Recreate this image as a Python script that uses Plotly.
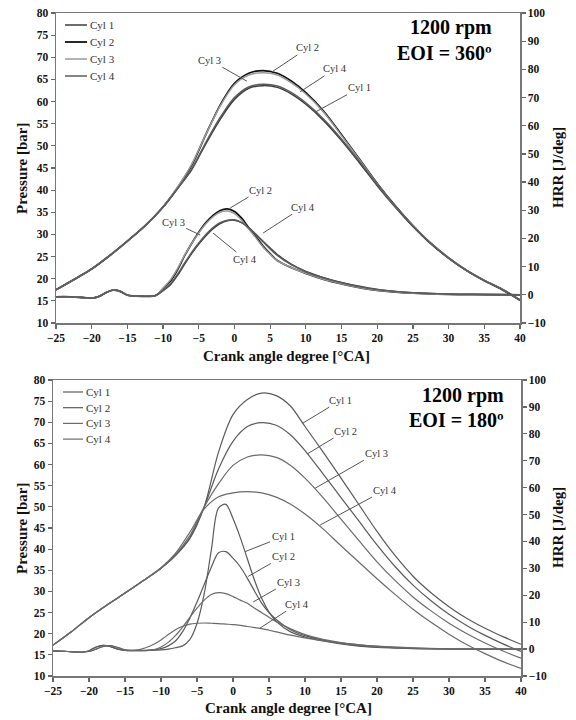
import plotly.graph_objects as go

# ---------------- data ----------------
CA_P = [-25, -22.5, -20, -17.5, -15, -12.5, -10, -8, -6, -4, -2, 0, 2, 4, 6, 8, 10,
        12.5, 15, 17.5, 20, 22.5, 25, 27.5, 30, 32.5, 35, 37.5, 40]
CA_H = [-25, -23, -21, -20, -19, -18, -17, -16, -15, -13, -11, -10, -9, -8, -7, -6, -5,
        -4, -3, -2, -1, 0, 1, 2, 3, 4, 5, 6, 8, 10, 12.5, 15, 17.5, 20, 25, 30, 35, 40]
cyl_names = ["Cyl 1", "Cyl 2", "Cyl 3", "Cyl 4"]

# EOI = 360 : pressure [bar]
p360_cyl1 = [17.5, 19.8, 22.2, 25.2, 28.5, 32.0, 36.2, 40.3, 44.6, 50.5, 56.0, 60.5, 63.0, 63.6, 63.2,
             61.7, 59.4, 55.7, 51.2, 46.2, 41.0, 36.2, 31.8, 27.9, 24.6, 21.8, 19.5, 17.5, 15.1]
p360_cyl2 = [17.5, 19.8, 22.2, 25.2, 28.5, 32.0, 36.2, 40.5, 45.6, 52.6, 59.2, 64.1, 66.4, 67.0, 66.4,
             64.6, 62.0, 57.8, 52.5, 47.0, 41.5, 36.5, 32.0, 28.0, 24.7, 21.9, 19.6, 17.6, 15.2]
p360_cyl3 = [17.5, 19.8, 22.2, 25.2, 28.5, 32.0, 36.2, 40.6, 45.8, 52.6, 59.0, 63.8, 66.0, 66.5, 66.0,
             64.2, 61.7, 57.6, 52.3, 46.9, 41.4, 36.4, 32.0, 28.0, 24.7, 21.9, 19.6, 17.6, 15.2]
p360_cyl4 = [17.5, 19.8, 22.2, 25.2, 28.5, 32.0, 36.2, 40.3, 44.8, 50.8, 56.4, 60.9, 63.3, 63.9, 63.5,
             62.0, 59.7, 56.0, 51.5, 46.5, 41.3, 36.4, 31.9, 28.0, 24.7, 21.9, 19.6, 17.6, 15.2]

# EOI = 360 : HRR [J/deg]
h360_cyl1 = [-0.7, -0.7, -1.0, -1.2, -0.6, 0.8, 1.7, 1.2, -0.1, -0.5, -0.2,
             1.5, 3.5, 6.8, 10.8, 14.6, 18.0, 21.0, 23.5, 25.3, 26.3, 26.5, 25.6, 23.8, 21.5, 19.0,
             16.6, 14.3, 10.8, 8.3, 6.1, 4.4, 3.0, 1.9, 0.7, 0.2, 0.1, 0.0]
h360_cyl2 = [-0.7, -0.7, -1.0, -1.2, -0.6, 0.8, 1.7, 1.2, -0.1, -0.5, -0.2,
             2.2, 4.8, 8.8, 13.8, 18.2, 22.2, 25.6, 28.2, 29.9, 30.5, 29.6, 27.2, 23.8, 20.6, 17.3,
             14.6, 12.2, 9.6, 7.6, 5.5, 3.9, 2.6, 1.6, 0.6, 0.2, 0.1, 0.0]
h360_cyl3 = [-0.7, -0.7, -1.0, -1.2, -0.6, 0.8, 1.7, 1.2, -0.1, -0.5, -0.2,
             2.4, 5.2, 9.2, 14.0, 18.2, 22.0, 25.2, 27.7, 29.3, 29.7, 28.8, 26.5, 23.3, 20.2, 17.0,
             14.4, 12.1, 9.6, 7.6, 5.5, 3.9, 2.6, 1.6, 0.6, 0.2, 0.1, 0.0]
h360_cyl4 = [-0.7, -0.7, -1.0, -1.2, -0.6, 0.8, 1.7, 1.2, -0.1, -0.5, -0.2,
             1.6, 3.8, 7.2, 11.2, 15.0, 18.4, 21.4, 23.9, 25.6, 26.5, 26.6, 25.6, 23.7, 21.3, 18.8,
             16.3, 14.0, 10.6, 8.2, 6.0, 4.3, 2.9, 1.9, 0.7, 0.2, 0.1, 0.0]

# EOI = 180 : pressure [bar]
p180_cyl1 = [17.3, 20.4, 23.8, 26.8, 29.6, 32.5, 35.5, 38.5, 42.5, 50.0, 63.0, 71.8, 75.4, 76.9, 76.3,
             73.8, 69.0, 63.0, 56.8, 50.5, 44.2, 38.5, 33.6, 29.7, 26.4, 23.6, 21.3, 19.3, 17.5]
p180_cyl2 = [17.3, 20.4, 23.8, 26.8, 29.6, 32.5, 35.5, 38.5, 42.7, 50.0, 59.0, 65.5, 69.0, 69.9, 69.3,
             67.0, 63.3, 57.8, 52.2, 46.6, 41.0, 35.9, 31.5, 27.8, 24.6, 21.9, 19.6, 17.6, 15.8]
p180_cyl3 = [17.3, 20.4, 23.8, 26.8, 29.6, 32.5, 35.5, 38.7, 43.2, 50.0, 55.5, 59.8, 61.8, 62.3, 61.7,
             59.8, 56.8, 52.2, 47.1, 42.0, 37.0, 32.6, 28.7, 25.4, 22.5, 20.0, 17.8, 15.9, 14.2]
p180_cyl4 = [17.3, 20.4, 23.8, 26.8, 29.6, 32.5, 35.6, 39.0, 44.0, 49.5, 52.4, 53.3, 53.6, 53.3, 52.3,
             50.6, 48.3, 44.8, 40.8, 36.9, 33.0, 29.3, 25.8, 22.7, 19.9, 17.4, 15.3, 13.4, 11.8]

# EOI = 180 : HRR [J/deg]
h180_cyl1 = [-0.7, -0.9, -1.2, -0.6, 0.8, 1.4, 0.9, 0.0, -0.5, -0.6, -0.4,
             -0.3, 0.0, 0.5, 1.2, 3.5, 9.5, 20.5, 37.0, 52.5, 53.8, 48.5, 41.5, 33.5, 25.5, 18.8,
             13.8, 10.3, 6.4, 4.5, 3.0, 1.9, 1.1, 0.6, 0.2, 0.0, 0.0, 0.0]
h180_cyl2 = [-0.7, -0.9, -1.2, -0.6, 0.8, 1.4, 0.9, 0.0, -0.5, -0.6, -0.3,
             0.2, 1.2, 3.0, 6.5, 11.5, 17.5, 24.0, 30.5, 35.8, 36.2, 33.8, 30.6, 26.3, 21.5, 17.0,
             13.6, 11.0, 7.2, 5.0, 3.3, 2.1, 1.3, 0.8, 0.3, 0.1, 0.0, 0.0]
h180_cyl3 = [-0.7, -0.9, -1.1, -0.9, 0.0, 1.0, 1.3, 0.6, -0.3, -0.5, -0.2,
             0.8, 2.5, 5.0, 8.2, 11.8, 15.2, 18.2, 20.3, 21.0, 20.6, 19.5, 18.2, 17.0, 15.2, 13.5,
             11.8, 10.2, 7.5, 5.4, 3.6, 2.4, 1.6, 1.0, 0.4, 0.1, 0.0, 0.0]
h180_cyl4 = [-0.7, -0.9, -1.1, -0.9, 0.0, 1.0, 1.3, 0.6, -0.3, -0.2, 1.8,
             3.4, 5.4, 7.2, 8.5, 9.3, 9.6, 9.7, 9.6, 9.5, 9.3, 9.1, 8.8, 8.4, 8.0, 7.6,
             7.0, 6.4, 5.2, 4.2, 3.1, 2.3, 1.6, 1.1, 0.5, 0.2, 0.1, 0.0]

left_ticks = list(range(10, 81, 5))
right_ticks = list(range(-10, 101, 10))
x_ticks = list(range(-25, 41, 5))

# ---------------- figure ----------------
W, H = 576, 720
SERIF = "Liberation Serif"
top_cols = ["#3c3c3c", "#101010", "#9a9a9a", "#5c5c5c"]
top_w = [1.5, 1.8, 1.5, 1.5]
bot_cols = ["#5a5a5a", "#5a5a5a", "#6a6a6a", "#6a6a6a"]

fig = go.Figure()
p360 = [p360_cyl1, p360_cyl2, p360_cyl3, p360_cyl4]
h360 = [h360_cyl1, h360_cyl2, h360_cyl3, h360_cyl4]
p180 = [p180_cyl1, p180_cyl2, p180_cyl3, p180_cyl4]
h180 = [h180_cyl1, h180_cyl2, h180_cyl3, h180_cyl4]

for i, name in enumerate(cyl_names):
    fig.add_trace(go.Scatter(x=CA_P, y=p360[i], name=name, mode="lines", xaxis="x", yaxis="y",
                             line=dict(color=top_cols[i], width=top_w[i], shape="spline", smoothing=0.9)))
for i, name in enumerate(cyl_names):
    fig.add_trace(go.Scatter(x=CA_H, y=h360[i], name=name, mode="lines", xaxis="x", yaxis="y2",
                             line=dict(color=top_cols[i], width=top_w[i], shape="spline", smoothing=0.9)))
for i, name in enumerate(cyl_names):
    fig.add_trace(go.Scatter(x=CA_P, y=p180[i], name=name, mode="lines", xaxis="x2", yaxis="y3",
                             line=dict(color=bot_cols[i], width=1.2, shape="spline", smoothing=0.9)))
for i, name in enumerate(cyl_names):
    fig.add_trace(go.Scatter(x=CA_H, y=h180[i], name=name, mode="lines", xaxis="x2", yaxis="y4",
                             line=dict(color=bot_cols[i], width=1.2, shape="spline", smoothing=0.9)))


def px_x(p):
    return p / W


def px_y(p):
    return (H - p) / H


tickfont = dict(family=SERIF, size=11.5, color="#111", weight="bold")
common_ax = dict(showline=True, linecolor="#777", linewidth=1.5, ticks="outside", ticklen=4,
                 tickcolor="#666", tickwidth=1.2, showgrid=False, zeroline=False, tickfont=tickfont,
                 automargin=False)

fig.update_layout(
    width=W, height=H, margin=dict(l=0, r=0, t=0, b=0, pad=0), autosize=False,
    paper_bgcolor="white", plot_bgcolor="white", showlegend=False,
    xaxis=dict(domain=[px_x(56), px_x(520)], range=[-25, 40], tickvals=x_ticks, anchor="y",
               mirror=True, **common_ax),
    yaxis=dict(domain=[px_y(323), px_y(13)], range=[10, 80], tickvals=left_ticks, anchor="x",
               **common_ax),
    yaxis2=dict(range=[-10, 100], tickvals=right_ticks, overlaying="y", side="right", anchor="x",
                **common_ax),
    xaxis2=dict(domain=[px_x(53), px_x(521)], range=[-25, 40], tickvals=x_ticks, anchor="y3",
                mirror=True, **common_ax),
    yaxis3=dict(domain=[px_y(676), px_y(380)], range=[10, 80], tickvals=left_ticks, anchor="x2",
                **common_ax),
    yaxis4=dict(range=[-10, 100], tickvals=right_ticks, overlaying="y3", side="right", anchor="x2",
                **common_ax),
)

ann = []
shapes = []
title_font = dict(family=SERIF, size=15, color="#111", weight="bold")
# axis titles
for txt, xc, yc, ang in [("Pressure [bar]", 22, 168, -90), ("HRR [J/deg]", 558, 168, -90),
                         ("Crank angle degree [°CA]", 286, 356, 0),
                         ("Pressure [bar]", 22, 528, -90), ("HRR [J/deg]", 558, 528, -90),
                         ("Crank angle degree [°CA]", 288, 708, 0)]:
    ann.append(dict(text=txt, x=px_x(xc), y=px_y(yc), textangle=ang, font=title_font,
                    xref="paper", yref="paper", showarrow=False, xanchor="center", yanchor="middle"))

big = dict(family=SERIF, size=20, color="#000", weight="bold")
for txt, xr, yc in [("1200 rpm", 494, 28), ("EOI = 360º", 494, 53),
                    ("1200 rpm", 506, 395), ("EOI = 180º", 506, 420)]:
    ann.append(dict(text=txt, x=px_x(xr), y=px_y(yc), xref="paper", yref="paper", showarrow=False,
                    xanchor="right", yanchor="middle", font=big))

# legends (drawn as line samples + text)
leg_font = dict(family=SERIF, size=11, color="#333")
for i, name in enumerate(cyl_names):
    yt = 25 + 17 * i
    shapes.append(dict(type="line", xref="paper", yref="paper", x0=px_x(65), x1=px_x(87),
                       y0=px_y(yt), y1=px_y(yt), line=dict(color=top_cols[i], width=top_w[i])))
    ann.append(dict(text=name, x=px_x(88), y=px_y(yt), xref="paper", yref="paper", showarrow=False,
                    xanchor="left", yanchor="middle", font=leg_font))
    yb = 392 + 15.7 * i
    shapes.append(dict(type="line", xref="paper", yref="paper", x0=px_x(63), x1=px_x(83),
                       y0=px_y(yb), y1=px_y(yb), line=dict(color=bot_cols[i], width=1.2)))
    ann.append(dict(text=name, x=px_x(84), y=px_y(yb), xref="paper", yref="paper", showarrow=False,
                    xanchor="left", yanchor="middle", font=leg_font))

# leader-line labels: (text, xref, yref, tip_x, tip_y, ax, ay)
callouts = [
    ("Cyl 3", "x", "y", 1.75, 64.6, -37, -21),
    ("Cyl 2", "x", "y", 5.25, 66.7, 36, -24),
    ("Cyl 4", "x", "y", 9.2, 62.2, 35, -23),
    ("Cyl 1", "x", "y", 11.4, 57.7, 44, -24),
    ("Cyl 2", "x", "y2", -0.6, 30.8, 30, -18),
    ("Cyl 3", "x", "y2", -4.8, 21.2, -27, -13),
    ("Cyl 4", "x", "y2", -3.0, 21.9, 32, 26),
    ("Cyl 4", "x", "y2", 4.0, 21.9, 40, -26),
    ("Cyl 1", "x2", "y3", 9.7, 69.8, 38, -23),
    ("Cyl 2", "x2", "y3", 10.3, 62.5, 38, -23),
    ("Cyl 3", "x2", "y3", 11.4, 54.4, 61, -35),
    ("Cyl 4", "x2", "y3", 12.1, 45.7, 65, -35),
    ("Cyl 1", "x2", "y4", 1.67, 36.2, 38, -15),
    ("Cyl 2", "x2", "y4", 2.1, 27.0, 35, -20),
    ("Cyl 3", "x2", "y4", 2.8, 17.5, 35, -20),
    ("Cyl 4", "x2", "y4", 3.75, 7.8, 37, -24),
]
for txt, xr, yr, tx, ty, ax, ay in callouts:
    ann.append(dict(text=txt, xref=xr, yref=yr, x=tx, y=ty, ax=ax, ay=ay, showarrow=True,
                    arrowhead=0, arrowwidth=1, arrowcolor="#555", standoff=0,
                    font=dict(family=SERIF, size=10.5, color="#333")))

fig.update_layout(annotations=ann, shapes=shapes)
fig.write_html("out.html", config={"displayModeBar": False, "staticPlot": True},
               post_script="document.body.style.margin='0';document.body.style.overflow='hidden';")
